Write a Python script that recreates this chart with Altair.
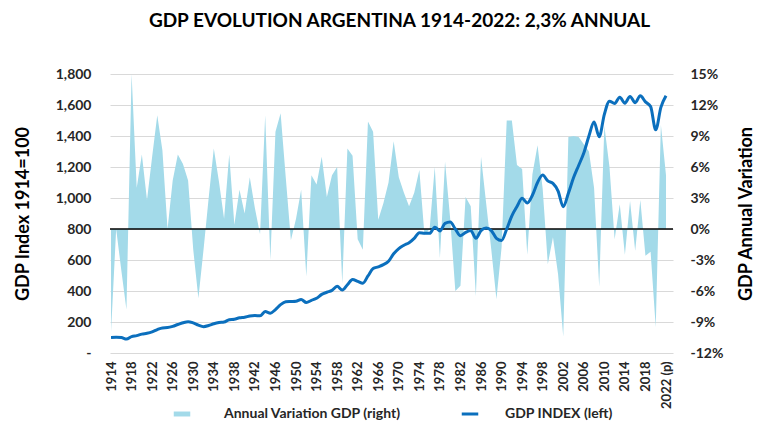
import altair as alt
import pandas as pd

years = list(range(1914, 2023))

gdp_index = [
    100, 101, 100, 90, 106, 112, 122, 127, 136, 151,      # 1914-1923
    162, 164, 172, 184, 195, 202, 194, 180, 170, 177,     # 1924-1933
    189, 197, 200, 215, 218, 227, 231, 239, 242, 240,     # 1934-1943
    267, 257, 280, 312, 330, 332, 334, 345, 326, 340,     # 1944-1953
    353, 378, 392, 404, 430, 406, 440, 474, 462, 450,     # 1954-1963
    497, 545, 556, 570, 592, 640, 674, 695, 712, 740,     # 1964-1973
    776, 772, 772, 812, 787, 836, 845, 800, 757, 778,     # 1974-1983
    790, 740, 790, 806, 790, 740, 726, 800, 885, 945,     # 1984-1993
    998, 968, 1018, 1100, 1148, 1110, 1094, 1045, 944, 1030,  # 1994-2003
    1130, 1210, 1290, 1400, 1490, 1395, 1540, 1625, 1610, 1650,  # 2004-2013
    1612, 1655, 1615, 1660, 1620, 1590, 1440, 1585, 1660,  # 2014-2022
]

annual_var = [
    -10, 0, -4, -7.8, 15, 4, 7.2, 2.8, 7, 11,             # 1914-1923
    7.6, 0, 4.7, 7.2, 6.3, 4.7, -2, -6.7, -2, 3,          # 1924-1933
    7.8, 4.6, 1, 7.2, 0.4, 3.8, 1.5, 5, 2, -0.5,          # 1934-1943
    11, -3, 9.4, 11.2, 5, -1.1, 1, 3.8, -4.6, 5.2,        # 1944-1953
    4.3, 7, 3.1, 5.2, 6, -5.3, 7.8, 7.1, -1, -2,          # 1954-1963
    10.4, 9.4, 0.9, 2.5, 4.5, 8.5, 5, 3.5, 2.2, 3.5,      # 1964-1973
    5.7, -0.6, 0, 6, -2.8, 6.5, 1, -6, -5.5, 3.1,         # 1974-1983
    2.2, -6.5, 7, 2.5, -2, -6.8, -1.8, 10.5, 10.5, 6.2,   # 1984-1993
    5.8, -2.5, 5.3, 8.1, 3.9, -3.4, -0.8, -4.4, -10.4, 8.9,  # 1994-2003
    9, 8.9, 8.2, 7.5, 4, -5.6, 10, 6, -1, 2.4,            # 2004-2013
    -2.5, 2.7, -2.1, 2.8, -2.6, -2.2, -9.5, 10.1, 5.2,    # 2014-2022
]

x_ticks = list(range(1914, 2023, 4))
left_ticks = list(range(0, 1801, 200))
right_ticks = list(range(-12, 16, 3))

area_label = "Annual Variation GDP (right)"
line_label = "GDP INDEX (left)"
title_text = "GDP EVOLUTION ARGENTINA 1914-2022: 2,3% ANNUAL"

AREA_COLOR = "#a3dae9"
LINE_COLOR = "#0b6fbd"
FONT = "Lato"
TXT = "#262626"

df = pd.DataFrame({"year": years, "idx": gdp_index, "var": annual_var})
df["s_area"] = area_label
df["s_line"] = line_label
zero_df = pd.DataFrame({"zero": [0]})

x_enc = alt.X(
    "year:Q",
    scale=alt.Scale(domain=[1913.8, 2023.36], nice=False, zero=False),
    axis=alt.Axis(
        values=x_ticks,
        labelExpr="datum.value == 2022 ? '2022 (p)' : '' + datum.value",
        labelAngle=270,
        labelFlush=False,
        labelOverlap=False,
        grid=False,
        domain=False,
        ticks=False,
        labelPadding=8,
        labelFontSize=13,
        labelFont=FONT,
        labelFontWeight="bold",
        labelColor=TXT,
        title=None,
    ),
)

area = alt.Chart(df).mark_area(interpolate="linear", opacity=1).encode(
    x=x_enc,
    y=alt.Y(
        "var:Q",
        scale=alt.Scale(domain=[-12, 15], nice=False, zero=False),
        axis=alt.Axis(
            orient="right",
            values=right_ticks,
            labelExpr="datum.value + '%'",
            labelOverlap=False,
            labelFlush=False,
            grid=False,
            domain=False,
            ticks=False,
            labelPadding=17,
            labelFontSize=14,
            labelFont=FONT,
            labelFontWeight="bold",
            labelColor=TXT,
            title="GDP Annual Variation",
            titleAngle=270,
            titleFontSize=18,
            titleFont=FONT,
            titleFontWeight="bold",
            titleColor="black",
            titlePadding=33,
        ),
    ),
    y2=alt.datum(0),
    color=alt.Color(
        "s_area:N",
        scale=alt.Scale(domain=[area_label], range=[AREA_COLOR]),
        legend=alt.Legend(
            orient="none",
            legendX=65,
            legendY=333,
            title=None,
            symbolType="M-1.5,-0.45L1.5,-0.45L1.5,0.45L-1.5,0.45Z",
            symbolSize=121,
            symbolStrokeWidth=0,
            labelFontSize=14,
            labelFont=FONT,
            labelFontWeight="bold",
            labelColor=TXT,
            labelOffset=35,
            labelLimit=400,
            padding=0,
        ),
    ),
)

zero_rule = alt.Chart(zero_df).mark_rule(color="black", strokeWidth=1.5).encode(
    y=alt.Y("zero:Q", scale=alt.Scale(domain=[-12, 15], nice=False, zero=False), axis=None)
)

line = alt.Chart(df).mark_line(strokeWidth=3, interpolate="monotone").encode(
    x=x_enc,
    y=alt.Y(
        "idx:Q",
        scale=alt.Scale(domain=[0, 1800], nice=False, zero=False),
        axis=alt.Axis(
            orient="left",
            values=left_ticks,
            labelExpr="datum.value == 0 ? '-' : format(datum.value, ',')",
            labelOverlap=False,
            labelFlush=False,
            grid=True,
            gridColor="#d9d9d9",
            gridWidth=1,
            domain=False,
            ticks=False,
            labelPadding=19,
            labelFontSize=14,
            labelFont=FONT,
            labelFontWeight="bold",
            labelColor=TXT,
            title="GDP Index 1914=100",
            titleFontSize=18,
            titleFont=FONT,
            titleFontWeight="bold",
            titleColor="black",
            titlePadding=23,
        ),
    ),
    stroke=alt.Stroke(
        "s_line:N",
        scale=alt.Scale(domain=[line_label], range=[LINE_COLOR]),
        legend=alt.Legend(
            orient="none",
            legendX=353,
            legendY=333,
            title=None,
            symbolType="M-1.5,0L1.5,0",
            symbolSize=121,
            symbolStrokeWidth=3,
            labelFontSize=14,
            labelFont=FONT,
            labelFontWeight="bold",
            labelColor=TXT,
            labelOffset=28,
            labelLimit=400,
            padding=0,
        ),
    ),
)

chart = (
    alt.layer(area, zero_rule, line)
    .resolve_scale(y="independent")
    .properties(
        width=563,
        height=279,
        autosize=alt.AutoSizeParams(type="none"),
        padding={"left": 102, "top": 66, "right": 83, "bottom": 69},
        background="white",
        title=alt.TitleParams(
            text=title_text,
            font=FONT,
            fontSize=19,
            fontWeight="bold",
            color="black",
            anchor="middle",
            offset=36,
            dx=8,
        ),
    )
    .configure_view(stroke=None)
)

chart.save("out.html", embed_options={"renderer": "svg", "actions": False})
